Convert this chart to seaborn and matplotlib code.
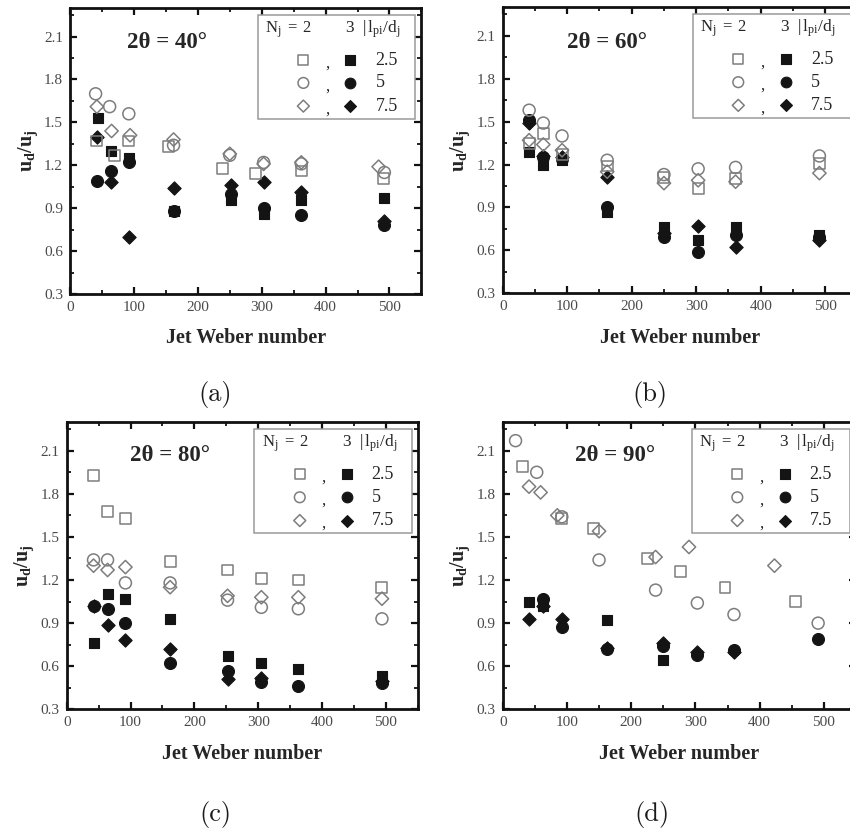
import numpy as np
import pandas as pd
import matplotlib
matplotlib.use("Agg")
import matplotlib.pyplot as plt
from matplotlib.ticker import MultipleLocator, FixedLocator, FormatStrFormatter
from matplotlib.patches import Rectangle
import seaborn as sns

# ---------------------------------------------------------------------------
# Droplet-to-jet velocity ratio u_d/u_j versus jet Weber number.
# Series naming: <panel>_n<jets>_<l_pi/d_j> -> (We, u_d/u_j)
# ---------------------------------------------------------------------------

# 2θ = 40°
a_n2_25_we = [42, 70, 92, 154, 239, 290, 362, 490]
a_n2_25_u = [1.37, 1.27, 1.37, 1.33, 1.18, 1.14, 1.16, 1.11]
a_n2_5_we = [40, 62, 92, 162, 250, 303, 362, 492]
a_n2_5_u = [1.70, 1.61, 1.56, 1.34, 1.27, 1.22, 1.21, 1.15]
a_n2_75_we = [42, 65, 94, 162, 250, 303, 362, 483]
a_n2_75_u = [1.61, 1.44, 1.41, 1.38, 1.28, 1.21, 1.22, 1.19]
a_n3_25_we = [43, 64, 93, 162, 252, 304, 362, 492]
a_n3_25_u = [1.53, 1.30, 1.25, 0.88, 0.96, 0.86, 0.96, 0.97]
a_n3_5_we = [42, 64, 93, 162, 252, 304, 362, 492]
a_n3_5_u = [1.09, 1.16, 1.22, 0.88, 1.00, 0.90, 0.85, 0.78]
a_n3_75_we = [42, 64, 93, 162, 252, 304, 362, 492]
a_n3_75_u = [1.40, 1.08, 0.70, 1.04, 1.06, 1.08, 1.01, 0.81]

# 2θ = 60°
b_we = [41, 63, 92, 162, 250, 303, 361, 491]
b_n2_25_u = [1.35, 1.42, 1.27, 1.19, 1.11, 1.03, 1.10, 1.21]
b_n2_5_u = [1.58, 1.49, 1.40, 1.23, 1.13, 1.17, 1.18, 1.26]
b_n2_75_u = [1.37, 1.34, 1.30, 1.15, 1.07, 1.09, 1.08, 1.14]
b_n3_25_u = [1.29, 1.20, 1.23, 0.87, 0.76, 0.67, 0.76, 0.71]
b_n3_5_u = [1.51, 1.25, 1.24, 0.90, 0.69, 0.59, 0.71, 0.69]
b_n3_75_u = [1.49, 1.26, 1.25, 1.11, 0.72, 0.77, 0.62, 0.67]

# 2θ = 80°
c_we = [42, 64, 92, 162, 252, 305, 363, 494]
c_n2_25_u = [1.93, 1.68, 1.63, 1.33, 1.27, 1.21, 1.20, 1.15]
c_n2_5_u = [1.34, 1.34, 1.18, 1.18, 1.06, 1.01, 1.00, 0.93]
c_n2_75_u = [1.30, 1.27, 1.29, 1.15, 1.09, 1.08, 1.08, 1.07]
c_n3_25_u = [0.76, 1.10, 1.07, 0.93, 0.67, 0.62, 0.58, 0.53]
c_n3_5_u = [1.02, 1.00, 0.90, 0.62, 0.57, 0.49, 0.46, 0.48]
c_n3_75_we = [42, 64, 92, 162, 252, 305, 494]
c_n3_75_u = [1.02, 0.89, 0.78, 0.72, 0.51, 0.52, 0.50]

# 2θ = 90°
d_n2_25_we = [31, 92, 141, 226, 277, 346, 456]
d_n2_25_u = [1.99, 1.63, 1.56, 1.35, 1.26, 1.15, 1.05]
d_n2_5_we = [20, 53, 92, 150, 238, 303, 360, 491]
d_n2_5_u = [2.17, 1.95, 1.64, 1.34, 1.13, 1.04, 0.96, 0.90]
d_n2_75_we = [41, 59, 85, 150, 238, 290, 423]
d_n2_75_u = [1.85, 1.81, 1.65, 1.54, 1.36, 1.43, 1.30]
d_n3_25_we = [41, 63, 162, 250]
d_n3_25_u = [1.05, 1.02, 0.92, 0.64]
d_n3_5_we = [63, 92, 162, 250, 303, 360, 491]
d_n3_5_u = [1.07, 0.87, 0.72, 0.74, 0.68, 0.71, 0.79]
d_n3_75_we = [41, 63, 92, 162, 250, 303, 360]
d_n3_75_u = [0.93, 1.02, 0.93, 0.73, 0.76, 0.70, 0.70]

spacing_labels = ["2.5", "5", "7.5"]
x_ticks = [0, 100, 200, 300, 400, 500]
y_ticks = [0.3, 0.6, 0.9, 1.2, 1.5, 1.8, 2.1]
titles = ["2θ = 40°", "2θ = 60°", "2θ = 80°", "2θ = 90°"]
captions = ["(a)", "(b)", "(c)", "(d)"]


def long_table(series):
    rows = []
    for (nj, lp), (we, u) in series.items():
        for w, v in zip(we, u):
            rows.append({"We": w, "ratio": v, "Nj": nj, "lpi": lp})
    return pd.DataFrame(rows)


panels = [
    long_table({
        (2, "2.5"): (a_n2_25_we, a_n2_25_u), (2, "5"): (a_n2_5_we, a_n2_5_u),
        (2, "7.5"): (a_n2_75_we, a_n2_75_u), (3, "2.5"): (a_n3_25_we, a_n3_25_u),
        (3, "5"): (a_n3_5_we, a_n3_5_u), (3, "7.5"): (a_n3_75_we, a_n3_75_u)}),
    long_table({
        (2, "2.5"): (b_we, b_n2_25_u), (2, "5"): (b_we, b_n2_5_u),
        (2, "7.5"): (b_we, b_n2_75_u), (3, "2.5"): (b_we, b_n3_25_u),
        (3, "5"): (b_we, b_n3_5_u), (3, "7.5"): (b_we, b_n3_75_u)}),
    long_table({
        (2, "2.5"): (c_we, c_n2_25_u), (2, "5"): (c_we, c_n2_5_u),
        (2, "7.5"): (c_we, c_n2_75_u), (3, "2.5"): (c_we, c_n3_25_u),
        (3, "5"): (c_we, c_n3_5_u), (3, "7.5"): (c_n3_75_we, c_n3_75_u)}),
    long_table({
        (2, "2.5"): (d_n2_25_we, d_n2_25_u), (2, "5"): (d_n2_5_we, d_n2_5_u),
        (2, "7.5"): (d_n2_75_we, d_n2_75_u), (3, "2.5"): (d_n3_25_we, d_n3_25_u),
        (3, "5"): (d_n3_5_we, d_n3_5_u), (3, "7.5"): (d_n3_75_we, d_n3_75_u)}),
]

# ---------------------------------------------------------------------------
sns.set_theme(style="ticks")
plt.rcParams.update({
    "font.family": ["Liberation Serif", "DejaVu Serif"],
    "mathtext.fontset": "custom",
    "mathtext.rm": "Liberation Serif",
    "mathtext.it": "Liberation Serif:italic",
    "mathtext.bf": "Liberation Serif:bold",
})

TEXT = "#262626"
TICK_TEXT = "#4a4a4a"
OPEN = "#7d7d7d"
FILLED = "#141414"
MARKERS = {"2.5": "s", "5": "o", "7.5": "D"}
SIZES = {"2.5": 62, "5": 74, "7.5": 46}

fig = plt.figure(figsize=(8.5, 8.31), dpi=100)
fig.patch.set_facecolor("white")

rects = [
    [0.0824, 0.6462, 0.4134, 0.3442],
    [0.5914, 0.6471, 0.4174, 0.3442],
    [0.0785, 0.1464, 0.4129, 0.3458],
    [0.5914, 0.1464, 0.4157, 0.3458],
]
title_pos = [(0.276, 0.880), (0.293, 0.875), (0.294, 0.885), (0.318, 0.885)]
caption_pos = [(215, 395), (650, 395), (215, 815), (652, 815)]


def draw_key(ax):
    ax.add_patch(Rectangle((0.535, 0.612), 0.448, 0.365, transform=ax.transAxes,
                           facecolor="white", edgecolor="#9a9a9a", lw=1.1, zorder=4))
    ax.text(0.556, 0.925, r"$\mathrm{N_j\ =\ 2}$", transform=ax.transAxes,
            ha="left", va="center", fontsize=12, color=TEXT, zorder=6)
    ax.text(0.783, 0.925, r"$\mathrm{3\ \ |\,l_{pi}/d_j}$", transform=ax.transAxes,
            ha="left", va="center", fontsize=12.5, color=TEXT, zorder=6)
    for y, lab in zip([0.818, 0.738, 0.657], spacing_labels):
        m = MARKERS[lab]
        ax.scatter([0.664], [y], transform=ax.transAxes, marker=m, s=SIZES[lab] * 0.8,
                   facecolor="none", edgecolor=OPEN, linewidth=1.1, zorder=6, clip_on=False)
        ax.text(0.732, y - 0.012, ",", transform=ax.transAxes, ha="center", va="center",
                fontsize=12, color=TEXT, zorder=6)
        ax.scatter([0.798], [y], transform=ax.transAxes, marker=m, s=SIZES[lab] * 0.8,
                   facecolor=FILLED, edgecolor=FILLED, linewidth=0.8, zorder=6, clip_on=False)
        ax.text(0.869, y, lab, transform=ax.transAxes, ha="left", va="center",
                fontsize=13, color=TEXT, zorder=6)


for i, df in enumerate(panels):
    ax = fig.add_axes(rects[i])
    # filled symbols: three jets; open symbols: two jets
    for lab in spacing_labels:
        sub = df[(df["Nj"] == 3) & (df["lpi"] == lab)]
        sns.scatterplot(data=sub, x="We", y="ratio", ax=ax, marker=MARKERS[lab],
                        s=SIZES[lab], color=FILLED, edgecolor=FILLED, linewidth=0.8,
                        legend=False, zorder=3)
    for lab in spacing_labels:
        sub = df[(df["Nj"] == 2) & (df["lpi"] == lab)]
        sns.scatterplot(data=sub, x="We", y="ratio", ax=ax, marker=MARKERS[lab],
                        s=SIZES[lab], facecolor="none", edgecolor=OPEN, linewidth=1.1,
                        legend=False, zorder=3)

    ax.set_xlim(0, 550)
    ax.set_ylim(0.3, 2.3)
    ax.xaxis.set_major_locator(FixedLocator(x_ticks))
    ax.xaxis.set_minor_locator(MultipleLocator(50))
    ax.yaxis.set_major_locator(FixedLocator(y_ticks))
    ax.yaxis.set_minor_locator(MultipleLocator(0.15))
    ax.yaxis.set_major_formatter(FormatStrFormatter("%.1f"))
    ax.tick_params(which="both", direction="in", top=True, right=True,
                   color="#111111", labelcolor=TICK_TEXT, labelsize=11)
    ax.tick_params(which="major", length=5, width=1.6, pad=5)
    ax.tick_params(which="minor", length=3, width=1.3)
    for sp in ax.spines.values():
        sp.set_linewidth(2.0)
        sp.set_color("#111111")

    ax.set_xlabel("Jet Weber number", fontsize=14.5, fontweight="bold", color=TEXT, va="center")
    ax.xaxis.set_label_coords(0.5, -0.155)
    ax.set_ylabel(r"$\mathbf{u_d/u_j}$", fontsize=14.5, color=TEXT, va="center")
    ax.yaxis.set_label_coords(-0.12, 0.5)

    tx, ty = title_pos[i]
    ax.text(tx, ty, titles[i], transform=ax.transAxes, ha="center", va="center",
            fontsize=16.5, fontweight="bold", color=TEXT)
    draw_key(ax)

    cx, cy = caption_pos[i]
    fig.text(cx / 850, 1 - cy / 831, captions[i], ha="center", va="center",
             fontsize=19, family="cmr10", color="#1a1a1a")

fig.savefig("out.png", dpi=100, facecolor="white")
